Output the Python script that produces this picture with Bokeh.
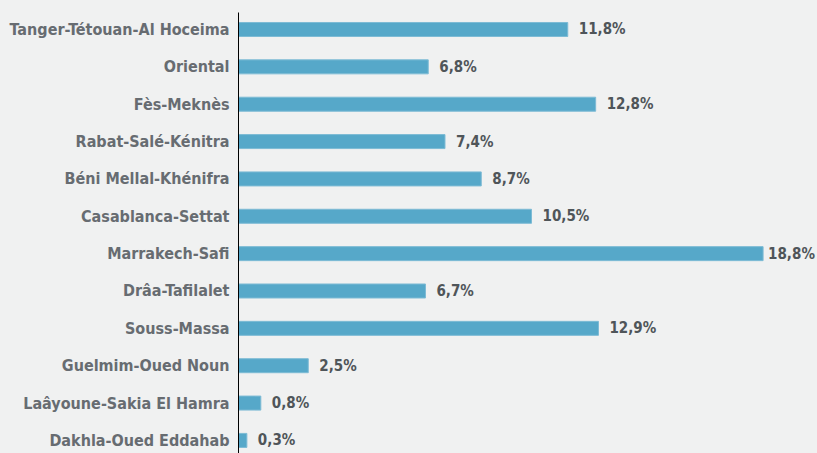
from bokeh.plotting import figure
from bokeh.models import Range1d, FixedTicker, ColumnDataSource
from bokeh.core.properties import value
from bokeh.embed import file_html
from bokeh.resources import INLINE

regions = ["Tanger-Tétouan-Al Hoceima", "Oriental", "Fès-Meknès", "Rabat-Salé-Kénitra",
           "Béni Mellal-Khénifra", "Casablanca-Settat", "Marrakech-Safi", "Drâa-Tafilalet",
           "Souss-Massa", "Guelmim-Oued Noun", "Laâyoune-Sakia El Hamra", "Dakhla-Oued Eddahab"]
shares = [11.8, 6.8, 12.8, 7.4, 8.7, 10.5, 18.8, 6.7, 12.9, 2.5, 0.8, 0.3]
share_labels = ["11,8%", "6,8%", "12,8%", "7,4%", "8,7%", "10,5%", "18,8%", "6,7%",
                "12,9%", "2,5%", "0,8%", "0,3%"]

BG = "#f0f1f1"
FONT = "'DejaVu Sans Condensed', 'DejaVu Sans', sans-serif"

pos = list(range(len(regions)))
# the longest bar's label sits closer to its bar so it stays inside the chart
offsets = [5 if v == max(shares) else 11 for v in shares]
src = ColumnDataSource(dict(y=pos, v=shares, lab=share_labels, off=offsets))

p = figure(width=817, height=453, output_backend="svg", toolbar_location=None,
           x_range=Range1d(0, 20.75), y_range=Range1d(11.35, -0.455),
           min_border_left=238, min_border_right=0, min_border_top=12, min_border_bottom=0,
           background_fill_color=BG, border_fill_color=BG, outline_line_color=None)

p.hbar(y="y", right="v", left=0, height=0.375, source=src,
       fill_color="#56a8c9", line_color="#7dbbd5", line_width=1)

p.text(x="v", y="y", text="lab", source=src, x_offset="off",
       text_font=value(FONT), text_font_style="bold", text_font_size="15px",
       text_color="#4f5559", text_baseline="middle", text_align="left")

p.xaxis.visible = False
p.xgrid.visible = False
p.ygrid.visible = False
ax = p.yaxis[0]
ax.ticker = FixedTicker(ticks=pos)
ax.major_label_overrides = {i: r for i, r in enumerate(regions)}
ax.major_tick_line_color = None
ax.minor_tick_line_color = None
ax.major_tick_in = 0
ax.major_tick_out = 0
ax.axis_line_color = "#000000"
ax.axis_line_width = 1
ax.major_label_standoff = 9
ax.major_label_text_font = FONT
ax.major_label_text_font_style = "bold"
ax.major_label_text_font_size = "16px"
ax.major_label_text_color = "#676c71"

html = file_html(p, INLINE)
html = html.replace("<head>", "<head><style>html,body{margin:0;padding:0;overflow:hidden;background:%s;}</style>" % BG, 1)
open("out.html", "w").write(html)
